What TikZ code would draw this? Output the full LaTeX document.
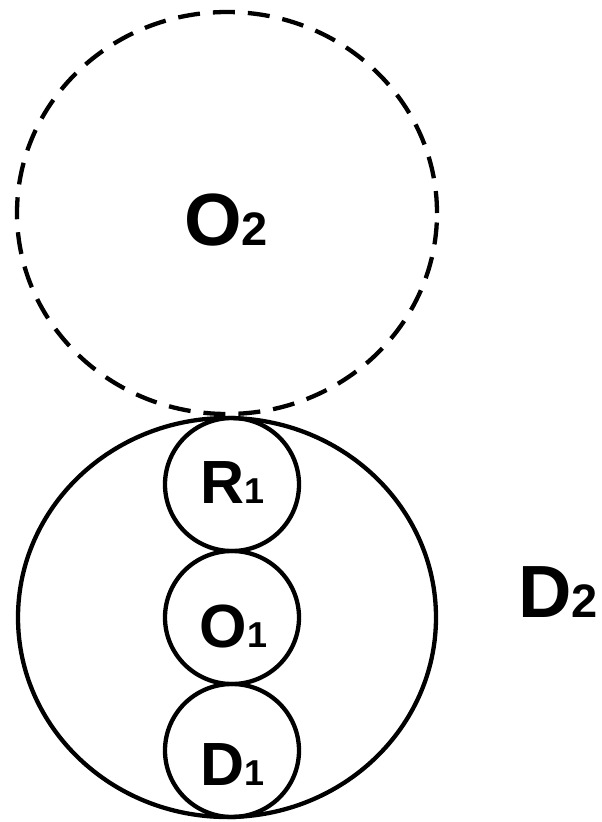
\documentclass[tikz,border=0pt]{standalone}
\usepackage{fontspec}
\setmainfont{Liberation Sans}
\newcommand{\bigsub}[1]{{\fontsize{47}{47}\selectfont #1}}
\newcommand{\smallsub}[1]{{\fontsize{36}{36}\selectfont #1}}
\begin{document}
\begin{tikzpicture}[x=1pt,y=1pt,
  outline/.style={draw=black,line width=4.3pt},
  dashedline/.style={outline,dash pattern=on 22pt off 13pt},
  biglab/.style={inner sep=0pt,anchor=base west,font=\bfseries\fontsize{74}{74}\selectfont},
  smalllab/.style={inner sep=0pt,anchor=base west,font=\bfseries\fontsize{61}{61}\selectfont}]
\useasboundingbox (0,0) rectangle (602,-822);
% dashed outer circle
\draw[dashedline] (227,-213) ellipse [x radius=210pt, y radius=201pt];
% solid outer circle
\draw[outline] (227,-617.5) ellipse [x radius=209pt, y radius=199.5pt];
% small circles
\draw[outline] (232,-484.5) ellipse [x radius=67pt, y radius=66.5pt];
\draw[outline] (232,-617.5) ellipse [x radius=67pt, y radius=66.5pt];
\draw[outline] (232,-750.5) ellipse [x radius=67pt, y radius=66.5pt];
% labels
\node[biglab] (o2) at (184,-245) {O\bigsub{2}};
\node[biglab] (d2) at (518,-617) {D\bigsub{2}};
\node[smalllab] (r1) at (200,-503) {R\smallsub{1}};
\node[smalllab] (o1) at (199.5,-647) {O\smallsub{1}};
\node[smalllab] (d1) at (200,-785) {D\smallsub{1}};
\end{tikzpicture}
\end{document}
